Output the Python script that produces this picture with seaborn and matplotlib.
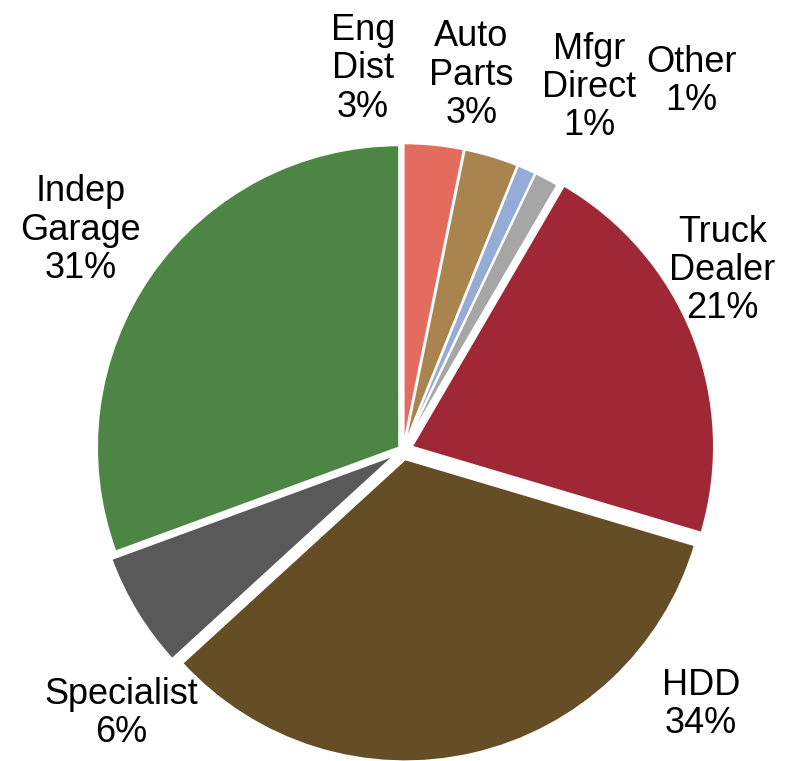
import matplotlib
matplotlib.use("Agg")
import matplotlib.pyplot as plt
import seaborn as sns

sns.set_theme(style="white")
plt.rcParams['font.family'] = ['Liberation Sans', 'DejaVu Sans']

categories = ["Eng\nDist", "Auto\nParts", "Mfgr\nDirect", "Other", "Truck\nDealer", "HDD", "Specialist", "Indep\nGarage"]
values = [3.2, 2.9, 1.0, 1.3, 21.2, 33.6, 6.2, 30.6]
pct_labels = ["3%", "3%", "1%", "1%", "21%", "34%", "6%", "31%"]

colors = ["#E46C5F", "#A9844E", "#95ADD6", "#A6A6A6", "#A02836", "#654D25", "#595959", "#4D8544"]
explode = [0.015, 0.015, 0.015, 0.015, 0.03, 0.03, 0.03, 0.015]
label_pos = [(-0.13, 1.23), (0.22, 1.21), (0.60, 1.17), (0.93, 1.19),
             (1.03, 0.58), (0.96, -0.82), (-0.91, -0.85), (-1.04, 0.71)]

fig = plt.figure(figsize=(7.86, 7.61), dpi=100)
ax = fig.add_axes([0, 0, 1, 1])
wedges, texts = ax.pie(values, colors=colors, startangle=90, counterclock=False,
                       explode=explode, radius=0.975,
                       labels=[f"{c}\n{p}" for c, p in zip(categories, pct_labels)],
                       wedgeprops=dict(edgecolor="white", linewidth=1.5),
                       textprops=dict(fontsize=26, color="black", linespacing=1.12))
for t, (x, y) in zip(texts, label_pos):
    t.set_position((x, y))
    t.set_ha("center")
    t.set_va("center")

ax.set_xlim(-1.30, 1.235)
ax.set_ylim(-1.003, 1.452)
ax.set_aspect("auto")
ax.axis("off")
fig.savefig("out.png", dpi=100)
